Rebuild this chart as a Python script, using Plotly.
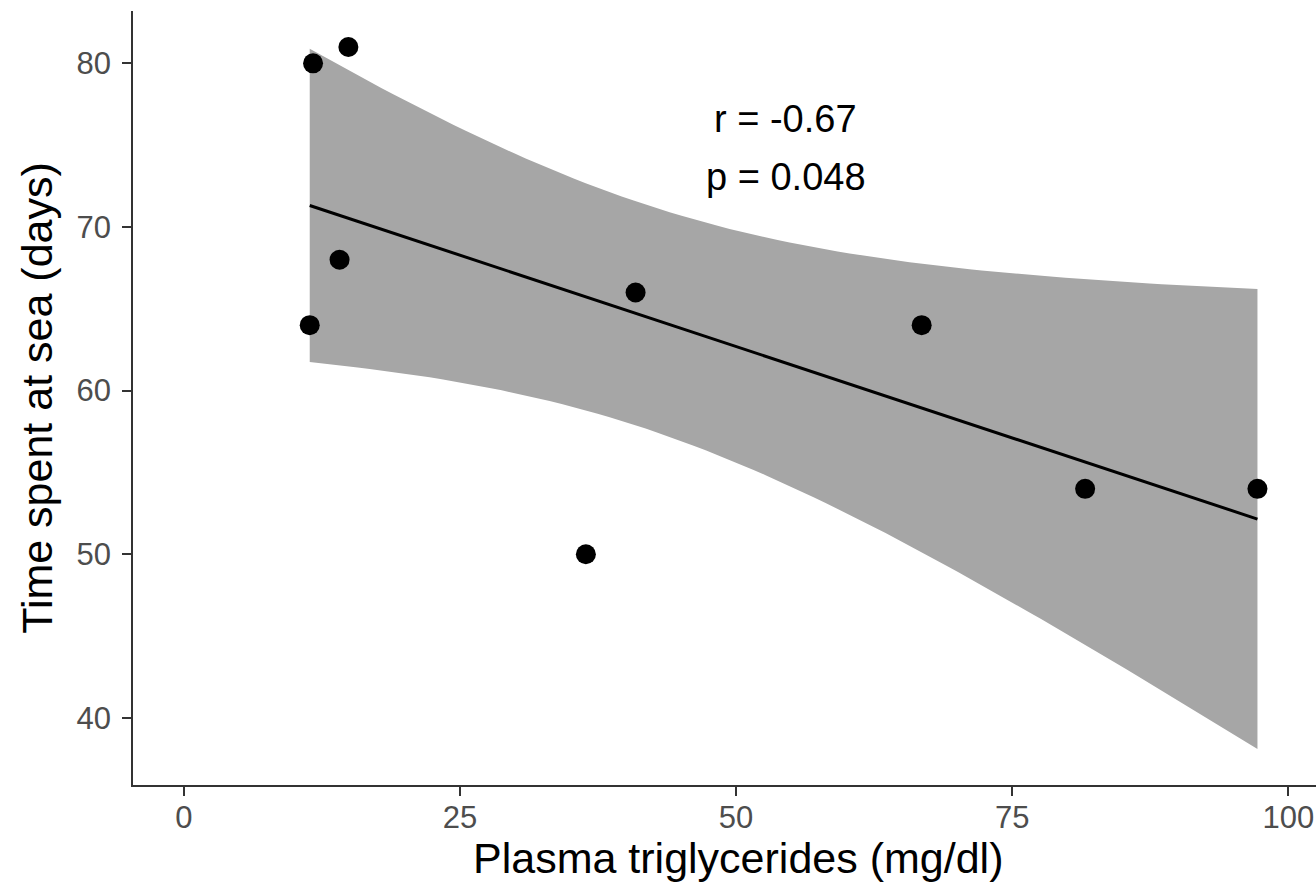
import numpy as np
import plotly.graph_objects as go

# Data
triglycerides = [11.4, 11.7, 14.9, 14.1, 36.4, 40.9, 66.8, 81.6, 97.2]
days_at_sea = [64, 80, 81, 68, 50, 66, 64, 54, 54]
x_ticks = [0, 25, 50, 75, 100]
y_ticks = [40, 50, 60, 70, 80]
stat_labels = ["r = -0.67", "p = 0.048"]

x = np.array(triglycerides, dtype=float)
y = np.array(days_at_sea, dtype=float)
n = len(x)
slope, intercept = np.polyfit(x, y, 1)
xs = np.linspace(x.min(), x.max(), 80)
fit = intercept + slope * xs
resid = y - (intercept + slope * x)
s = np.sqrt(np.sum(resid ** 2) / (n - 2))
sxx = np.sum((x - x.mean()) ** 2)
t_crit = 2.3646  # t(0.975, df=7)
se = s * np.sqrt(1.0 / n + (xs - x.mean()) ** 2 / sxx)
upper = fit + t_crit * se
lower = fit - t_crit * se

FONT = "Liberation Sans, Arial, sans-serif"

fig = go.Figure()
fig.add_trace(go.Scatter(
    x=np.concatenate([xs, xs[::-1]]),
    y=np.concatenate([upper, lower[::-1]]),
    fill="toself", fillcolor="#a6a6a6", line=dict(width=0),
    mode="lines", hoverinfo="skip", showlegend=False))
fig.add_trace(go.Scatter(x=xs, y=fit, mode="lines",
                         line=dict(color="black", width=3), showlegend=False))
fig.add_trace(go.Scatter(x=triglycerides, y=days_at_sea, mode="markers",
                         marker=dict(color="black", size=20), showlegend=False))

for i, lab in enumerate(stat_labels):
    fig.add_annotation(x=54.5, y=[76.6, 73.05][i], text=lab, showarrow=False,
                       font=dict(family=FONT, size=38, color="black"),
                       xanchor="center", yanchor="middle")

# x-axis title (centred as in the reference)
fig.add_annotation(x=0.511, y=-0.094, xref="paper", yref="paper",
                   text="Plasma triglycerides (mg/dl)", showarrow=False,
                   font=dict(family=FONT, size=43, color="black"),
                   xanchor="center", yanchor="middle")

axis_common = dict(showgrid=False, zeroline=False, showline=True,
                   linecolor="#333333", linewidth=1.6, ticks="outside",
                   tickcolor="#333333", ticklen=9, tickwidth=1.5,
                   tickfont=dict(family=FONT, size=31, color="#4d4d4d"))
fig.update_xaxes(range=[-4.6, 102.5], tickvals=x_ticks, ticklabelstandoff=-5,
                 **axis_common)
fig.update_yaxes(range=[35.9, 83.2], tickvals=y_ticks, ticklabelstandoff=5,
                 title=dict(text="Time spent at sea (days)",
                            font=dict(family=FONT, size=43, color="black"),
                            standoff=10),
                 **axis_common)
fig.update_layout(width=1316, height=888, plot_bgcolor="white", paper_bgcolor="white",
                  margin=dict(l=133, r=0, t=11, b=103))
fig.write_html("out.html", config={"displayModeBar": False},
               post_script="document.body.style.margin='0';document.body.style.overflow='hidden';")
